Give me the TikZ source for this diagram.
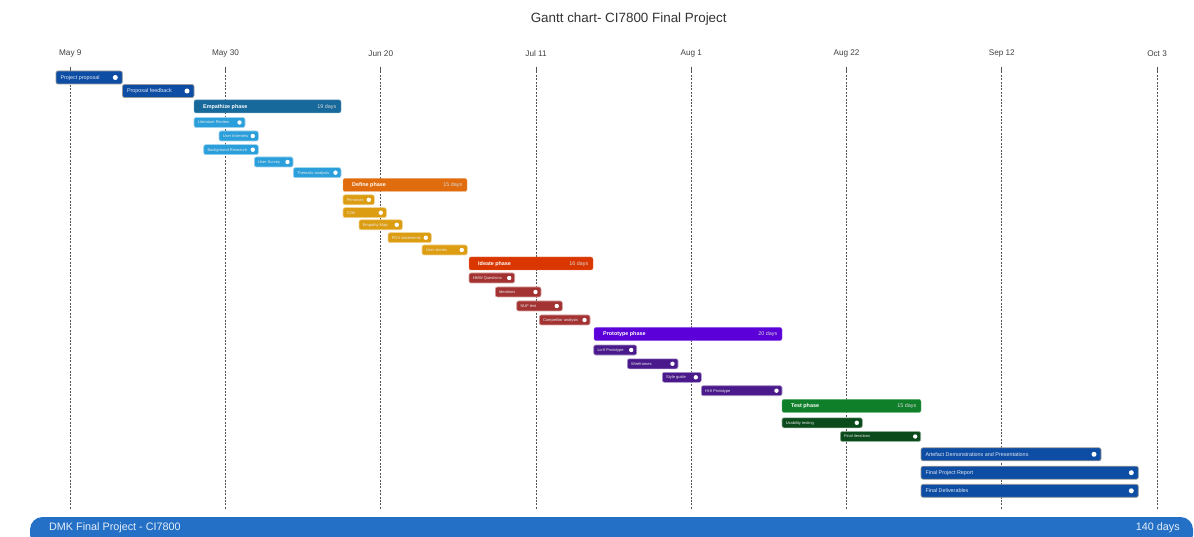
\documentclass[tikz,border=0pt]{standalone}
\usepackage{fontspec}
\setmainfont{Liberation Sans}

% palette
\definecolor{projblue}{HTML}{0E4DA4}
\definecolor{empPhase}{HTML}{17699B}
\definecolor{empTask}{HTML}{2A9FDB}
\definecolor{defPhase}{HTML}{E06C0E}
\definecolor{defTask}{HTML}{DD9D12}
\definecolor{idePhase}{HTML}{D93600}
\definecolor{ideTask}{HTML}{A33232}
\definecolor{proPhase}{HTML}{5B00D9}
\definecolor{proTask}{HTML}{4A1A8C}
\definecolor{tstPhase}{HTML}{0F7F2A}
\definecolor{tstTask}{HTML}{0B4A1B}
\definecolor{footerblue}{HTML}{2470C6}
\definecolor{gridgray}{HTML}{555555}

% milestone bar: name, x start, x end, y centre, label
\newcommand\gmain[5]{%
  \node[mainbar, minimum width={#3-#2}, anchor=west] (#1) at (#2,#4) {};
  \node[mainlbl, anchor=west] (#1-t) at ([xshift=4.3pt]#1.west) {#5};
  \node[maindot] (#1-d) at ([xshift=-7pt]#1.east) {};
}
% phase bar: name, colour, x start, x end, y centre, title, duration
\newcommand\gphase[7]{%
  \node[phasebar=#2, minimum width={#4-#3}, anchor=west] (#1) at (#3,#5) {};
  \node[phasename, anchor=west] (#1-t) at ([xshift=9pt]#1.west) {#6};
  \node[phasedays, anchor=east] (#1-n) at ([xshift=-4.5pt]#1.east) {#7};
}
% task bar: name, colour, x start, x end, y centre, label
\newcommand\gtask[6]{%
  \node[taskbar=#2, minimum width={#4-#3}, anchor=west] (#1) at (#3,#5) {};
  \node[tasklbl, anchor=west] (#1-t) at ([xshift=3.6pt]#1.west) {#6};
  \node[taskdot] (#1-d) at ([xshift=-5.5pt]#1.east) {};
}

\begin{document}
\begin{tikzpicture}[x=1pt, y=-1pt,
  bar/.style={rectangle, rounded corners=2pt, inner sep=0pt, outer sep=0pt},
  mainbar/.style={bar, fill=projblue, draw=gray!80, line width=0.7pt, minimum height=13pt},
  phasebar/.style={bar, fill=#1, draw=white!35!#1, line width=0.4pt, minimum height=13pt},
  taskbar/.style={bar, fill=#1, draw=white!55!#1, line width=0.6pt, minimum height=10pt},
  mainlbl/.style={font=\fontsize{5.4}{6}\selectfont, text=white!88!projblue, inner sep=0pt,
    text height=3.9pt, text depth=0pt},
  phasename/.style={font=\fontsize{5.4}{6}\selectfont\bfseries, text=white, inner sep=0pt,
    text height=3.9pt, text depth=0pt},
  phasedays/.style={font=\fontsize{5.4}{6}\selectfont, text=white!85!black, inner sep=0pt,
    text height=3.9pt, text depth=0pt},
  tasklbl/.style={font=\fontsize{4}{5}\selectfont, text=white!92!black, inner sep=0pt,
    text height=2.9pt, text depth=0pt},
  maindot/.style={circle, fill=white, inner sep=0pt, minimum size=5pt},
  taskdot/.style={circle, fill=white, inner sep=0pt, minimum size=4.4pt},
  datelbl/.style={font=\fontsize{8.2}{9}\selectfont, text=black!75, inner sep=0pt},
  gridtick/.style={gridgray, line width=0.7pt},
  gridline/.style={gridgray, line width=0.7pt, dash pattern=on 2pt off 1.4pt},
  footer/.style={rectangle, rounded corners=12.5pt, fill=footerblue, inner sep=0pt, outer sep=0pt},
  footlbl/.style={font=\fontsize{10.8}{12}\selectfont, text=white!88!footerblue, inner sep=0pt}
]
\useasboundingbox (0,0) rectangle (1194,537);
\clip (0,0) rectangle (1194,537);

% title
\node[font=\fontsize{13.4}{15}\selectfont, text=black!80, inner sep=0pt] (title) at (628.7,19.5)
  {Gantt chart- CI7800 Final Project};

% time axis: date labels and dashed guide lines every three weeks
\foreach \lab [count=\i from 0] in {May 9, May 30, Jun 20, Jul 11, Aug 1, Aug 22, Sep 12, Oct 3} {
  \pgfmathsetmacro\gx{70.3+155.25*\i}
  \node[datelbl] (date\i) at (\gx,53.5) {\lab};
  \coordinate (gtop\i) at (\gx,66.7);
  \coordinate (gmid\i) at (\gx,71.5);
  \coordinate (gbot\i) at (\gx,510);
  \draw[gridtick] (gtop\i) -- (gmid\i);
  \draw[gridline] (gmid\i) -- (gbot\i);
}

% project milestones
\gmain{pp}{56}{122.3}{77.5}{Project proposal}
\gmain{pf}{122.5}{194}{91}{Proposal feedback}

% empathize
\gphase{emp}{empPhase}{194}{341}{106.4}{Empathize phase}{19 days}
\gtask{lit}{empTask}{194}{245}{122.5}{Literature Review}
\gtask{uint}{empTask}{219}{258.3}{136}{User Interview}
\gtask{bgr}{empTask}{203.7}{258.3}{149.7}{Background Research}
\gtask{usv}{empTask}{254.3}{293}{162}{User Survey}
\gtask{tha}{empTask}{293.3}{341}{172.7}{Thematic analysis}

% define
\gphase{def}{defPhase}{343}{467}{185}{Define phase}{15 days}
\gtask{per}{defTask}{343}{374.3}{199.8}{Personas}
\gtask{cjm}{defTask}{343}{386.3}{212.7}{CJM}
\gtask{emap}{defTask}{359}{402.3}{224.8}{Empathy Map}
\gtask{pov}{defTask}{388}{431.3}{237.7}{POV statements}
\gtask{ust}{defTask}{422}{467.3}{250}{User stories}

% ideate
\gphase{ide}{idePhase}{469}{593}{263.5}{Ideate phase}{16 days}
\gtask{hmw}{ideTask}{469}{514.7}{278}{HMW Questions}
\gtask{idn}{ideTask}{495.3}{541}{292}{Ideations}
\gtask{nuf}{ideTask}{516.7}{562.3}{306}{NUF test}
\gtask{cmp}{ideTask}{539.3}{590}{320}{Competitor analysis}

% prototype
\gphase{pro}{proPhase}{594}{782}{334}{Prototype phase}{20 days}
\gtask{lofi}{proTask}{593.7}{636.7}{350}{Lo-fi Prototype}
\gtask{wfr}{proTask}{627.3}{678}{363.8}{Wireframes}
\gtask{sgd}{proTask}{662.3}{701.3}{377.3}{Style guide}
\gtask{hifi}{proTask}{701.3}{782}{390.7}{Hi-fi Prototype}

% test
\gphase{tst}{tstPhase}{782}{921}{405.9}{Test phase}{15 days}
\gtask{usa}{tstTask}{782}{862.3}{422.8}{Usability testing}
\gtask{fit}{tstTask}{840.3}{920.7}{436.5}{Final iterations}

% deliverables
\gmain{art}{921}{1101}{454.3}{Artefact Demonstrations and Presentations}
\gmain{rep}{921}{1138.3}{472.7}{Final Project Report}
\gmain{dlv}{921}{1138.3}{490.8}{Final Deliverables}

% project summary bar
\node[footer, minimum width=1163pt, minimum height=30pt, anchor=north west] (foot) at (30,517) {};
\node[footlbl, anchor=west] (foot-t) at (49,528) {DMK Final Project - CI7800};
\node[footlbl, anchor=east] (foot-n) at (1180,528) {140 days};
\end{tikzpicture}
\end{document}
